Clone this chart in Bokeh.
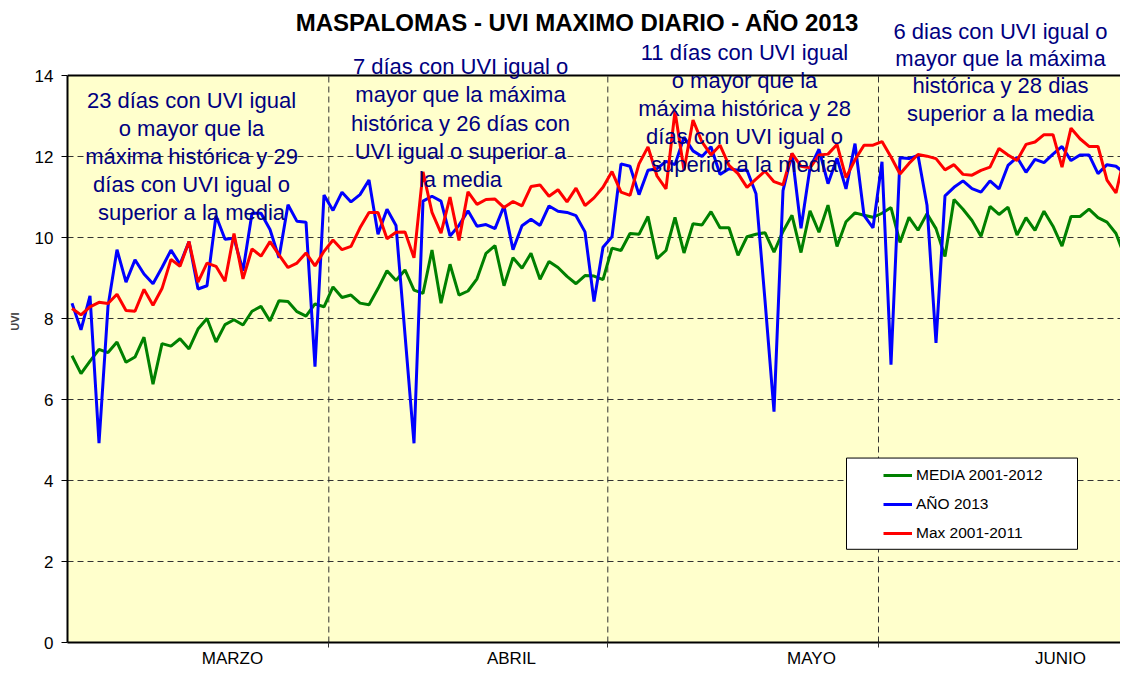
from bokeh.plotting import figure
from bokeh.models import (Range1d, FixedTicker, Label, BoxAnnotation, Legend,
                          LegendItem, CustomJSTickFormatter, Span)
from bokeh.embed import file_html
from bokeh.resources import INLINE

# ---------------- data (daily UVI, 1 March onwards) ----------------
media = [7.08, 6.64, 6.95, 7.24, 7.16, 7.42, 6.92, 7.05, 7.54, 6.38,
         7.38, 7.32, 7.50, 7.25, 7.74, 8.00, 7.42, 7.85, 7.97, 7.84,
         8.18, 8.30, 7.94, 8.44, 8.42, 8.17, 8.06, 8.36, 8.29, 8.78,
         8.52, 8.58, 8.38, 8.34, 8.74, 9.18, 8.94, 9.20, 8.70, 8.62,
         9.69, 8.38, 9.34, 8.58, 8.68, 8.98, 9.61, 9.80, 8.81, 9.50,
         9.24, 9.61, 8.97, 9.41, 9.26, 9.04, 8.86, 9.06, 9.05, 8.96,
         9.74, 9.68, 10.10, 10.08, 10.52, 9.48, 9.68, 10.50, 9.62, 10.34,
         10.31, 10.64, 10.24, 10.24, 9.56, 10.02, 10.08, 10.12, 9.64, 10.15,
         10.55, 9.63, 10.66, 10.13, 10.80, 9.78, 10.39, 10.61, 10.55, 10.50,
         10.60, 10.74, 9.88, 10.50, 10.18, 10.59, 10.22, 9.53, 10.94, 10.70,
         10.42, 10.03, 10.77, 10.57, 10.75, 10.06, 10.49, 10.18, 10.65, 10.28,
         9.79, 10.52, 10.52, 10.70, 10.49, 10.38, 10.10, 9.52, 9.46]

ano_2013 = [8.38, 7.72, 8.56, 4.92, 8.30, 9.70, 8.90, 9.45, 9.10, 8.86,
            9.26, 9.69, 9.34, 9.90, 8.73, 8.81, 10.54, 9.96, 9.98, 9.18,
            10.60, 10.60, 10.20, 9.50, 10.81, 10.40, 10.38, 6.81, 11.05, 10.67,
            11.12, 10.88, 11.06, 11.42, 10.08, 10.70, 10.30, 7.60, 4.92, 10.90,
            11.02, 10.90, 10.04, 10.30, 10.66, 10.28, 10.32, 10.22, 10.78, 9.70,
            10.29, 10.45, 10.30, 10.78, 10.65, 10.62, 10.54, 10.14, 8.42, 9.76,
            10.02, 11.82, 11.76, 11.06, 11.66, 11.70, 11.88, 11.80, 12.48, 12.14,
            12.00, 12.24, 11.56, 11.70, 11.66, 11.66, 11.08, 8.45, 5.70, 11.16,
            12.08, 10.23, 11.72, 12.18, 11.33, 11.96, 11.20, 12.32, 10.55, 10.24,
            11.87, 6.86, 11.97, 11.95, 12.03, 10.80, 7.40, 11.03, 11.24, 11.40,
            11.21, 11.12, 11.40, 11.20, 11.78, 11.98, 11.61, 11.93, 11.85, 12.06,
            12.25, 11.90, 12.04, 12.04, 11.58, 11.80, 11.76, 11.58, 10.78]

max_hist = [8.25, 8.09, 8.29, 8.40, 8.37, 8.60, 8.20, 8.18, 8.72, 8.33,
            8.74, 9.46, 9.29, 9.90, 8.90, 9.37, 9.29, 8.92, 10.10, 8.98,
            9.72, 9.54, 9.90, 9.57, 9.26, 9.37, 9.62, 9.30, 9.66, 9.94,
            9.70, 9.78, 10.24, 10.62, 10.62, 9.97, 10.13, 10.14, 9.50, 11.62,
            10.62, 10.11, 11.00, 9.93, 11.13, 10.82, 10.94, 10.95, 10.74, 10.89,
            10.78, 11.26, 11.30, 11.02, 11.18, 10.88, 11.22, 10.79, 10.98, 11.24,
            11.63, 11.12, 11.04, 11.82, 12.24, 11.52, 11.20, 13.12, 11.66, 12.90,
            12.36, 12.04, 12.28, 11.78, 11.58, 11.24, 11.44, 11.64, 11.38, 11.30,
            12.08, 11.76, 11.72, 12.04, 12.06, 12.30, 11.48, 11.92, 12.28, 12.28,
            12.37, 11.99, 11.57, 11.83, 12.05, 12.01, 11.95, 11.67, 11.80, 11.56,
            11.54, 11.66, 11.74, 12.20, 12.04, 11.90, 12.30, 12.36, 12.54, 12.54,
            11.74, 12.70, 12.44, 12.25, 12.25, 11.42, 11.10, 12.06, 11.38]

months = ["MARZO", "ABRIL", "MAYO", "JUNIO"]
series_names = ["MEDIA 2001-2012", "AÑO 2013", "Max 2001-2011"]
y_ticks = [0, 2, 4, 6, 8, 10, 12, 14]
title_text = "MASPALOMAS - UVI MAXIMO DIARIO - AÑO 2013"
notes = [
    ["23 días con UVI igual", "o mayor que la", "máxima histórica y 29",
     "días con UVI igual o", "superior a la media"],
    ["7 días con UVI igual o", "mayor que la máxima", "histórica y 26 días con",
     "UVI igual o superior a", "la media"],
    ["11 días con UVI igual", "o mayor que la", "máxima histórica y 28",
     "días con UVI igual o", "superior a la media"],
    ["6 dias con UVI igual o", "mayor que la máxima", "histórica y 28 dias",
     "superior a la media"],
]

# ---------------- layout ----------------
W, H = 1120, 670
FRAME_LEFT = 67          # y axis position (px)
TOP_PX = 76              # pixel of UVI = 14
FB = 650                 # pixel of UVI = 0 (frame bottom)
PX_PER_DAY = 9.0
PX_PER_UVI = (FB - TOP_PX) / 14.0
Y_END = FB / PX_PER_UVI  # frame reaches the top edge of the canvas


def dx(px):
    return -0.5 + (px - FRAME_LEFT) / PX_PER_DAY


def dy(py):                      # pixel row in this canvas -> data
    return (FB - py) / PX_PER_UVI


def ref_val(py):                 # pixel row in the reference -> UVI value
    return (661 - py) / 41.714


FONT = "Liberation Sans"
NAVY = "#000080"
GRID = "#333333"

days = list(range(len(media)))

p = figure(width=W, height=H, output_backend="svg", toolbar_location=None,
           x_range=Range1d(-0.5, -0.5 + (W - FRAME_LEFT) / PX_PER_DAY),
           y_range=Range1d(0, Y_END),
           min_border_left=FRAME_LEFT, min_border_right=0,
           min_border_top=0, min_border_bottom=H - FB,
           background_fill_color="white", border_fill_color="white",
           outline_line_color=None)
p.title.visible = False

# yellow plotting area (UVI 0..14)
p.add_layout(BoxAnnotation(bottom=0, top=14, fill_color="#FFFFCC", fill_alpha=1.0,
                           line_color=None, level="image"))

# x axis: month names, ticks at month boundaries
grid_pos = [dx(328.3), dx(607.3), dx(878.0)]
label_pos = [dx(232), dx(511), dx(811), dx(1060)]

p.xaxis.ticker = FixedTicker(ticks=label_pos, minor_ticks=grid_pos)
p.xaxis.formatter = CustomJSTickFormatter(args=dict(names=months),
                                          code="return names[index] || ''")
p.xaxis.major_tick_line_color = None
p.xaxis.major_tick_out = 0
p.xaxis.major_tick_in = 0
p.xaxis.minor_tick_out = 5
p.xaxis.minor_tick_in = 0
p.xaxis.minor_tick_line_color = GRID
p.xaxis.major_label_standoff = 1
p.xaxis.major_label_text_font = FONT
p.xaxis.major_label_text_font_size = "17px"
p.xaxis.major_label_text_color = "black"
p.xaxis.axis_line_color = "black"
p.xaxis.axis_line_width = 2
p.xgrid.visible = False

# month separators
p.segment(x0=grid_pos, y0=[0] * len(grid_pos), x1=grid_pos, y1=[14] * len(grid_pos),
          line_color=GRID, line_width=1, line_dash="6 4")

# y axis
p.yaxis.ticker = FixedTicker(ticks=y_ticks)
p.yaxis.bounds = (0, 14)
p.yaxis.major_tick_out = 6
p.yaxis.major_tick_in = 0
p.yaxis.minor_tick_line_color = None
p.yaxis.major_label_standoff = 8
p.yaxis.major_label_text_font = FONT
p.yaxis.major_label_text_font_size = "17px"
p.yaxis.major_label_text_color = "black"
p.yaxis.axis_line_color = "black"
p.yaxis.axis_line_width = 2
p.yaxis.axis_label = "UVI"
p.yaxis.axis_label_text_font = FONT
p.yaxis.axis_label_text_font_size = "11px"
p.yaxis.axis_label_text_font_style = "bold"
p.yaxis.axis_label_standoff = 11

p.ygrid.ticker = FixedTicker(ticks=y_ticks[1:-1])
p.ygrid.grid_line_color = GRID
p.ygrid.grid_line_dash = "6 4"
p.ygrid.grid_line_width = 1

# top edge of the plotting area
p.add_layout(Span(location=14, dimension="width", line_color="black", line_width=2))

# series
r_media = p.line(days, media, color="#008000", line_width=3)
r_ano = p.line(days, ano_2013, color="#0000FF", line_width=3)
r_max = p.line(days, max_hist, color="#FF0000", line_width=3)

# legend box + legend
box_top, box_bottom = ref_val(471), ref_val(565)
p.add_layout(BoxAnnotation(left=dx(846), right=dx(1077), top=box_top, bottom=box_bottom,
                           fill_color="white", fill_alpha=1.0,
                           line_color="black", line_alpha=1.0, line_width=1))
box_top_px = FB - box_top * PX_PER_UVI
rows_top_px = box_top_px + 8
legend = Legend(items=[LegendItem(label=series_names[0], renderers=[r_media]),
                       LegendItem(label=series_names[1], renderers=[r_ano]),
                       LegendItem(label=series_names[2], renderers=[r_max])],
                location=(883 - FRAME_LEFT, FB - (rows_top_px + 80)),
                padding=0, margin=0, spacing=9,
                glyph_width=29, glyph_height=20, label_height=20,
                label_standoff=4, label_text_font=FONT,
                label_text_font_size="15.5px", label_text_color="black",
                background_fill_alpha=0, border_line_color=None)
p.add_layout(legend)

# title
p.add_layout(Label(x=dx(577), y=dy(22), text=title_text, text_align="center",
                   text_baseline="middle", text_font=FONT,
                   text_font_size="24px", text_font_style="bold",
                   text_color="black"))

# annotation blocks
blocks = [(191, 101.7, 28.3), (460, 67.0, 28.6), (744, 53.0, 28.3), (1000, 31.0, 27.7)]
for lines, (cx, y0, step) in zip(notes, blocks):
    for k, line in enumerate(lines):
        p.add_layout(Label(x=dx(cx), y=dy(y0 + k * step), text=line,
                           text_align="center", text_baseline="middle",
                           text_font=FONT, text_font_size="22px",
                           text_color=NAVY))

open("out.html", "w").write(file_html(p, INLINE))
